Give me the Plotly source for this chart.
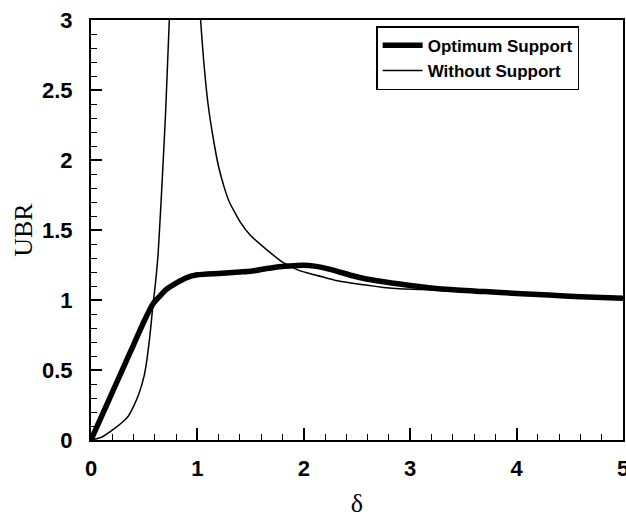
import plotly.graph_objects as go

# Optimum Support (thick)
opt_delta = [0, 0.1, 0.2, 0.3, 0.4, 0.5, 0.58, 0.65, 0.7, 0.8, 0.9, 1.0, 1.2, 1.4, 1.5, 1.65, 1.8, 1.9, 2.0,
             2.1, 2.2, 2.3, 2.45, 2.6, 2.75, 2.9, 3.1, 3.34, 3.7, 4.0, 4.3, 4.6, 5.0]
opt_ubr = [0, 0.17, 0.34, 0.51, 0.68, 0.85, 0.97, 1.03, 1.07, 1.12, 1.16, 1.18, 1.19, 1.20, 1.205, 1.225, 1.24,
           1.245, 1.248, 1.242, 1.228, 1.208, 1.175, 1.148, 1.13, 1.114, 1.095, 1.076, 1.06, 1.047, 1.035, 1.024, 1.012]

# Without Support (thin)
wo_delta = [0, 0.1, 0.2, 0.3, 0.35, 0.4, 0.45, 0.5, 0.525, 0.55, 0.565, 0.58, 0.6, 0.615, 0.63, 0.66, 0.7, 0.736, 0.76,
            1.0, 1.03, 1.06, 1.1, 1.15, 1.2, 1.25, 1.3, 1.4, 1.5, 1.65, 1.8, 1.96, 2.1, 2.3, 2.6, 2.75, 2.9,
            3.1, 3.34, 3.7, 4.0, 4.6, 5.0]
wo_ubr = [0, 0.02, 0.07, 0.13, 0.17, 0.24, 0.33, 0.46, 0.57, 0.72, 0.83, 0.95, 1.08, 1.19, 1.32, 1.72, 2.32, 3.0, 3.4,
          3.4, 3.0, 2.7, 2.4, 2.15, 1.95, 1.81, 1.7, 1.56, 1.46, 1.36, 1.27, 1.21, 1.18, 1.14, 1.105, 1.09, 1.08,
          1.075, 1.066, 1.052, 1.04, 1.02, 1.008]

x_ticks = [0, 1, 2, 3, 4, 5]
y_ticks = [0, 0.5, 1, 1.5, 2, 2.5, 3]
y_tick_labels = ["0", "0.5", "1", "1.5", "2", "2.5", "3"]

fig = go.Figure()
fig.add_trace(go.Scatter(x=opt_delta, y=opt_ubr, mode="lines", name="Optimum Support",
                         line=dict(color="black", width=5.5, shape="spline", smoothing=0.6)))
fig.add_trace(go.Scatter(x=wo_delta, y=wo_ubr, mode="lines", name="Without Support",
                         line=dict(color="black", width=1.5, shape="spline", smoothing=0.4)))

tick_font = dict(family="Arial, Liberation Sans, sans-serif", size=22, color="black", weight="bold")
title_font = dict(family="Times New Roman, Liberation Serif, serif", size=26, color="black")

fig.update_layout(
    width=626, height=518,
    margin=dict(l=91, r=3, t=20, b=78),
    paper_bgcolor="white", plot_bgcolor="white",
    showlegend=True,
    legend=dict(x=0.536, y=0.985, xanchor="left", yanchor="top",
                bgcolor="white", bordercolor="black", borderwidth=1.5,
                font=dict(family="Arial, Liberation Sans, sans-serif", size=17, color="black", weight="bold"),
                tracegroupgap=0, itemwidth=40),
)
fig.update_xaxes(range=[0, 5], tickvals=x_ticks, ticktext=[str(v) for v in x_ticks],
                 ticks="inside", ticklen=12, tickwidth=1.5, tickcolor="black",
                 minor=dict(dtick=0.2, ticks="inside", ticklen=6, tickwidth=1.2, tickcolor="black", showgrid=False),
                 showline=True, linecolor="black", linewidth=2, mirror=True, automargin=False,
                 ticklabeloverflow="allow",
                 showgrid=False, zeroline=False, tickfont=tick_font, ticklabelstandoff=8,
                 title=dict(text="δ", font=title_font, standoff=15))
fig.update_yaxes(range=[0, 3], tickvals=y_ticks, ticktext=y_tick_labels,
                 ticks="inside", ticklen=11, tickwidth=1.5, tickcolor="black",
                 minor=dict(dtick=0.1, ticks="inside", ticklen=6, tickwidth=1.2, tickcolor="black", showgrid=False),
                 showline=True, linecolor="black", linewidth=2, mirror=True, automargin=False,
                 ticklabeloverflow="allow",
                 showgrid=False, zeroline=False, tickfont=tick_font, ticklabelstandoff=12,
                 title=dict(text="UBR", font=title_font, standoff=2))

fig.write_html("out.html", config={"displayModeBar": False},
               post_script="document.body.style.margin='0';document.body.style.overflow='hidden';")
